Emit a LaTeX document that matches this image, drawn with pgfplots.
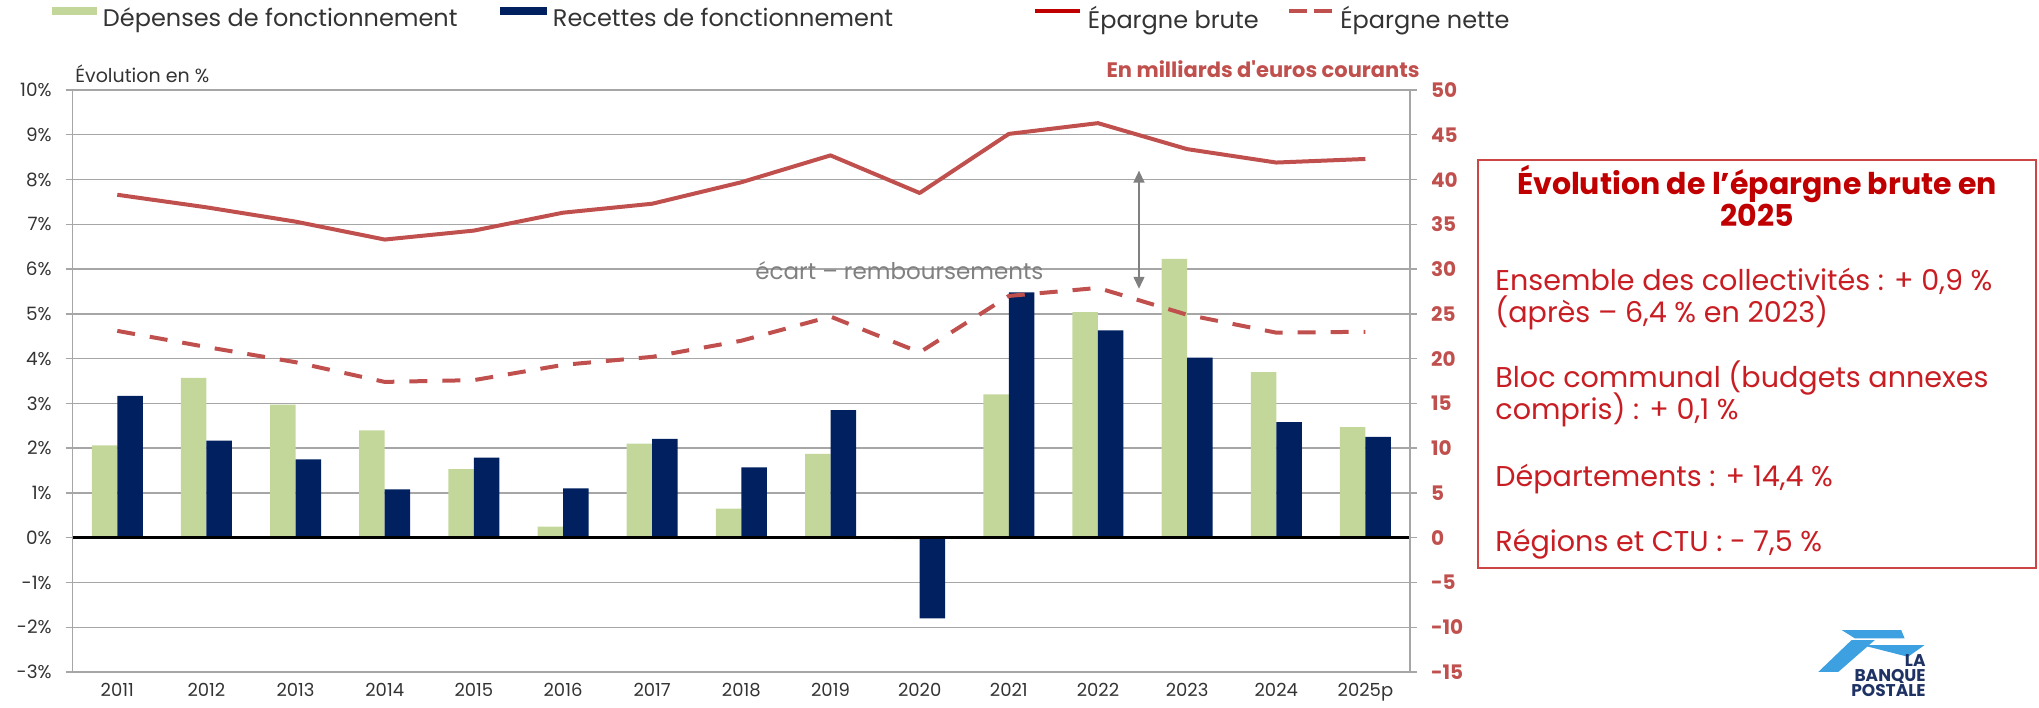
\documentclass[border=0pt]{standalone}
\usepackage{fontspec}
\setmainfont{Poppins}
\usepackage{pgfplots}
\usepackage{pgfplotstable}
\pgfplotsset{compat=1.18}
\usetikzlibrary{arrows.meta}

\definecolor{vert}{RGB}{196,215,155}
\definecolor{marine}{RGB}{0,32,96}
\definecolor{rouge}{RGB}{192,80,77}
\definecolor{rougefonce}{RGB}{192,0,0}
\definecolor{rougetxt}{RGB}{200,30,35}
\definecolor{cadre}{RGB}{205,70,70}
\definecolor{grille}{RGB}{166,166,166}
\definecolor{texte}{RGB}{51,51,51}
\definecolor{fleche}{RGB}{128,128,128}
\definecolor{logoblue}{RGB}{60,160,225}
\definecolor{logonavy}{RGB}{30,50,100}

\pgfplotstableread{
x dep rec brute nette
0 2.06 3.17 38.3 23.1
1 3.57 2.17 36.9 21.3
2 2.97 1.75 35.3 19.6
3 2.40 1.08 33.3 17.4
4 1.53 1.79 34.3 17.6
5 0.25 1.10 36.3 19.3
6 2.10 2.21 37.3 20.2
7 0.65 1.57 39.7 22.0
8 1.87 2.85 42.7 24.7
9 -0.03 -1.80 38.5 20.7
10 3.20 5.48 45.1 27.0
11 5.04 4.63 46.3 27.9
12 6.23 4.02 43.4 24.9
13 3.70 2.58 41.9 22.9
14 2.47 2.25 42.3 23.0
}\data

\begin{document}
\begin{tikzpicture}
\path[use as bounding box] (0,0) rectangle (1019.5pt,-353.5pt);

\begin{axis}[
  at={(36.35pt,-336pt)}, anchor=south west,
  width=668.65pt, height=291pt, scale only axis,
  xmin=-0.5, xmax=14.5, ymin=-3, ymax=10,
  ytick={-3,-2,...,10},
  yticklabels={-3\%,-2\%,-1\%,0\%,1\%,2\%,3\%,4\%,5\%,6\%,7\%,8\%,9\%,10\%},
  xtick={0,...,14},
  xticklabels={2011,2012,2013,2014,2015,2016,2017,2018,2019,2020,2021,2022,2023,2024,2025p},
  ymajorgrids, grid style={grille, line width=0.7pt},
  axis y line*=left, axis x line*=bottom,
  y axis line style={grille, line width=0.7pt, -},
  x axis line style={draw=none, -},
  xtick style={draw=none},
  ytick style={grille, line width=0.7pt},
  tick align=outside, major tick length=3.5pt,
  yticklabel style={font=\fontsize{9.2}{10}\selectfont, text=texte, xshift=-3.5pt},
  xticklabel style={font=\fontsize{9}{10}\selectfont, text=texte, yshift=1.2pt},
  legend columns=4,
  legend style={draw=none, fill=none, inner sep=0pt, outer sep=0pt,
    at={(-0.0155,1.123)}, anchor=west,
    font=\fontsize{12}{12}\selectfont, text=texte,
    nodes={inner sep=0pt},
    /tikz/every odd column/.append style={column sep=3pt},
    /tikz/every even column/.append style={column sep=0pt}},
  legend cell align=left,
]
\addplot[ybar, bar width=0.286, bar shift=-0.143, fill=vert, draw=none,
  legend image code/.code={\fill[vert] (0pt,1.8pt) rectangle (22.5pt,5.9pt);}]
  table[x=x,y=dep]{\data};
\addlegendentry{\makebox[198.5pt][l]{Dépenses de fonctionnement}}
\addplot[ybar, bar width=0.286, bar shift=0.143, fill=marine, draw=none,
  legend image code/.code={\fill[marine] (0pt,1.8pt) rectangle (23.5pt,5.9pt);}]
  table[x=x,y=rec]{\data};
\addlegendentry{\makebox[240pt][l]{Recettes de fonctionnement}}
\addlegendimage{legend image code/.code={\draw[rougefonce, line width=2pt] (0pt,3.85pt) -- (22.5pt,3.85pt);}}
\addlegendentry{\makebox[99.5pt][l]{Épargne brute}}
\addlegendimage{legend image code/.code={\draw[rouge, line width=2.2pt, dash pattern=on 9pt off 3.5pt] (0pt,3.85pt) -- (21.5pt,3.85pt);}}
\addlegendentry{Épargne nette}
\draw[black, line width=1.7pt] (axis cs:-0.5,0) -- (axis cs:14.5,0);
\end{axis}

\begin{axis}[
  at={(36.35pt,-336pt)}, anchor=south west,
  width=668.65pt, height=291pt, scale only axis,
  xmin=-0.5, xmax=14.5, ymin=-15, ymax=50,
  axis x line=none, axis y line*=right,
  ytick={-15,-10,...,50},
  yticklabels={-15,-10,-5,0,5,10,15,20,25,30,35,40,45,50},
  y axis line style={grille, line width=0.7pt, -},
  ytick style={grille, line width=0.7pt},
  tick align=outside, major tick length=3.5pt,
  yticklabel style={font=\bfseries\fontsize{10}{10}\selectfont, text=rouge, xshift=3.5pt},
]
\addplot[rouge, line width=2pt, line join=round] table[x=x,y=brute]{\data};
\addplot[rouge, line width=2pt, dash pattern=on 9pt off 7.5pt] table[x=x,y=nette]{\data};
\draw[fleche, line width=0.7pt, {Triangle[length=6pt,width=5.5pt]}-{Triangle[length=6pt,width=5.5pt]}]
  (axis cs:11.46,41) -- (axis cs:11.46,27.8);
\end{axis}

% annotations
\node[anchor=base west, inner sep=0pt, font=\fontsize{9.5}{10}\selectfont, text=texte] at (37.5pt,-41pt) {Évolution en \%};
\node[anchor=base east, inner sep=0pt, font=\bfseries\fontsize{10.5}{11}\selectfont, text=rouge] at (710pt,-38.5pt) {En milliards d{\addfontfeatures{Ligatures=TeXOff}'}euros courants};
\node[anchor=base west, inner sep=0pt, font=\fontsize{11.5}{12}\selectfont, text=fleche] at (377.5pt,-139.5pt) {écart – remboursements};

% text box
\draw[cadre, line width=0.8pt] (739pt,-80pt) rectangle (1018pt,-284pt);
\node[anchor=base, inner sep=0pt, font=\bfseries\fontsize{15}{15}\selectfont, text=rougefonce] at (878.5pt,-97pt) {Évolution de l’épargne brute en};
\node[anchor=base, inner sep=0pt, font=\bfseries\fontsize{15}{15}\selectfont, text=rougefonce] at (878.5pt,-113pt) {2025};
\begin{scope}[every node/.style={anchor=base west, inner sep=0pt, font=\fontsize{14.3}{14.3}\selectfont, text=rougetxt}]
\node at (747.5pt,-145pt) {Ensemble des collectivités : + 0,9 \%};
\node at (747.5pt,-161.3pt) {(après – 6,4 \% en 2023)};
\node at (747.5pt,-193.8pt) {Bloc communal (budgets annexes};
\node at (747.5pt,-209.7pt) {compris) : + 0,1 \%};
\node at (747.5pt,-243.3pt) {Départements : + 14,4 \%};
\node at (747.5pt,-275.5pt) {Régions et CTU : - 7,5 \%};
\end{scope}

% logo
\fill[logoblue] (920.8pt,-315pt) -- (950.6pt,-315pt) -- (952.3pt,-319.2pt) -- (927.5pt,-319.2pt) -- cycle;
\fill[logoblue] (925.8pt,-320pt) -- (937.4pt,-320pt) -- (919.2pt,-335.9pt) -- (909.2pt,-335.9pt) -- cycle;
\fill[logoblue] (930.8pt,-322.5pt) -- (962.3pt,-322.5pt) -- (954pt,-328.4pt) -- cycle;
\begin{scope}[every node/.style={anchor=base east, inner sep=0pt, font=\bfseries\fontsize{8.5}{8.5}\selectfont, text=logonavy}]
\node at (963pt,-333.3pt) {LA};
\node at (963pt,-340.8pt) {BANQUE};
\node at (963pt,-348.3pt) {POSTALE};
\end{scope}
\end{tikzpicture}
\end{document}
